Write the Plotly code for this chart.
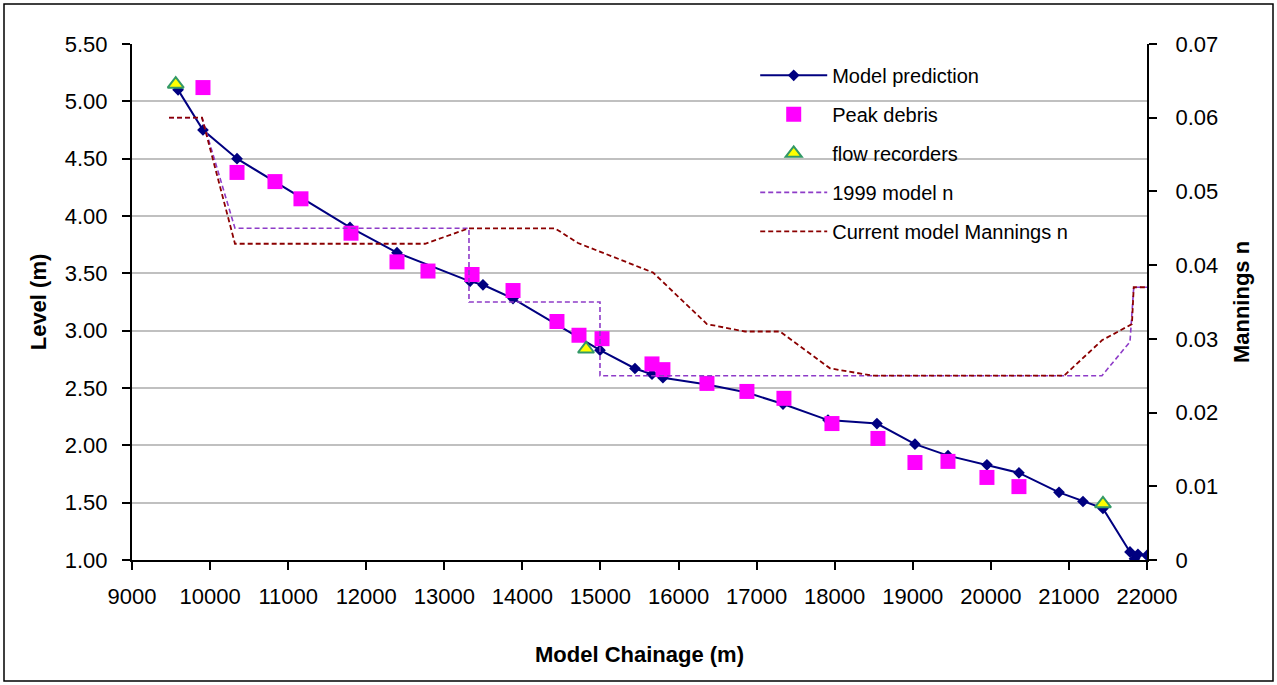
import plotly.graph_objects as go

# Model prediction (level, m)
model_x = [9590, 9909, 10345, 11792, 12394, 13329, 13495, 13880, 14994, 15442, 15660, 15800,
           16364, 16876, 17338, 17914, 18541, 19028, 19451, 19950, 20360, 20873, 21180, 21436,
           21782, 21840, 21884, 22000]
model_y = [5.10, 4.75, 4.50, 3.90, 3.68, 3.43, 3.40, 3.28, 2.83, 2.67, 2.62, 2.59,
           2.53, 2.46, 2.36, 2.22, 2.19, 2.01, 1.91, 1.83, 1.76, 1.59, 1.51, 1.45,
           1.07, 1.01, 1.05, 1.04]

# Peak debris levels
debris_x = [9909, 10345, 10831, 11164, 11805, 12394, 12791, 13355, 13880, 14443, 14725, 15020,
            15660, 15800, 16364, 16876, 17350, 17965, 18554, 19028, 19451, 19950, 20360]
debris_y = [5.12, 4.38, 4.30, 4.15, 3.85, 3.60, 3.52, 3.49, 3.35, 3.08, 2.96, 2.93,
            2.71, 2.66, 2.54, 2.47, 2.41, 2.19, 2.06, 1.85, 1.86, 1.72, 1.64]

# Flow recorders
rec_x = [9560, 14815, 21436]
rec_y = [5.15, 2.84, 1.49]

# 1999 model n
n1999_x = [9474, 9897, 10319, 13316, 13316, 14994, 14994, 21423, 21782, 21830, 22000]
n1999_y = [0.060, 0.060, 0.045, 0.045, 0.035, 0.035, 0.025, 0.025, 0.0296, 0.037, 0.037]

# Current model Mannings n
ncur_x = [9474, 9897, 10319, 12753, 13316, 14417, 14712, 15673, 16364, 16851, 17299, 17940,
          18490, 20937, 21423, 21807, 21830, 22000]
ncur_y = [0.060, 0.060, 0.0429, 0.0429, 0.045, 0.045, 0.043, 0.039, 0.032, 0.031, 0.031, 0.026,
          0.025, 0.025, 0.0298, 0.032, 0.037, 0.037]

FONT = "Liberation Sans, Arial, sans-serif"

fig = go.Figure()
fig.add_trace(go.Scatter(x=n1999_x, y=n1999_y, yaxis="y2", mode="lines", name="1999 model n",
                         legendgroup="d", line=dict(color="#8E3CC8", width=1.6, dash="5px,3px"),
                         legendrank=4))
fig.add_trace(go.Scatter(x=ncur_x, y=ncur_y, yaxis="y2", mode="lines",
                         name="Current model Mannings n", legendgroup="e",
                         line=dict(color="#8B0000", width=1.8, dash="5px,3px"), legendrank=5))
fig.add_trace(go.Scatter(x=model_x, y=model_y, mode="lines+markers", name="Model prediction",
                         legendgroup="a", line=dict(color="#000080", width=2),
                         marker=dict(symbol="diamond", size=9, color="#000080"), legendrank=1))
fig.add_trace(go.Scatter(x=debris_x, y=debris_y, mode="markers", name="Peak debris",
                         legendgroup="b",
                         marker=dict(symbol="square", size=15, color="#FF00FF"), legendrank=2))
fig.add_trace(go.Scatter(x=rec_x, y=rec_y, mode="markers", name="flow recorders",
                         legendgroup="c",
                         marker=dict(symbol="triangle-up", size=14, color="#FFFF00",
                                     line=dict(color="#339966", width=2)), legendrank=3))

axis_common = dict(showline=True, linecolor="black", linewidth=2,
                   ticks="outside", ticklen=8, tickwidth=2, tickcolor="black",
                   tickfont=dict(size=22, family=FONT), zeroline=False)

fig.update_layout(
    width=1277, height=685,
    margin=dict(l=132, r=130, t=44, b=125),
    paper_bgcolor="white", plot_bgcolor="white",
    font=dict(family=FONT, size=20, color="black"),
    showlegend=True,
    legend=dict(x=0.614, y=0.977, xanchor="left", yanchor="top",
                bgcolor="rgba(0,0,0,0)", font=dict(size=20, family=FONT),
                itemwidth=67, traceorder="grouped", tracegroupgap=10),
    xaxis=dict(range=[9000, 22000], dtick=1000, tick0=9000, tickformat="d", showgrid=False,
               ticklabelstandoff=8,
               title=dict(text="<b>Model Chainage (m)</b>", font=dict(size=22), standoff=38),
               **axis_common),
    yaxis=dict(range=[1.0, 5.5], dtick=0.5, tick0=1.0, tickformat=".2f",
               showgrid=True, gridcolor="#C0C0C0", gridwidth=2, ticklabelstandoff=10,
               title=dict(text="<b>Level (m)</b>", font=dict(size=22), standoff=12),
               **axis_common),
    yaxis2=dict(range=[0, 0.07], dtick=0.01, tick0=0, overlaying="y", side="right",
                showgrid=False, ticklabelstandoff=14,
                title=dict(text="<b>Mannings n</b>", font=dict(size=22), standoff=16),
                **axis_common),
    shapes=[dict(type="rect", xref="paper", yref="paper",
                 x0=-128/1015, x1=1+126/1015, y0=-121/516, y1=1+40/516,
                 line=dict(color="black", width=1.5))],
)

fig.write_html("out.html")
